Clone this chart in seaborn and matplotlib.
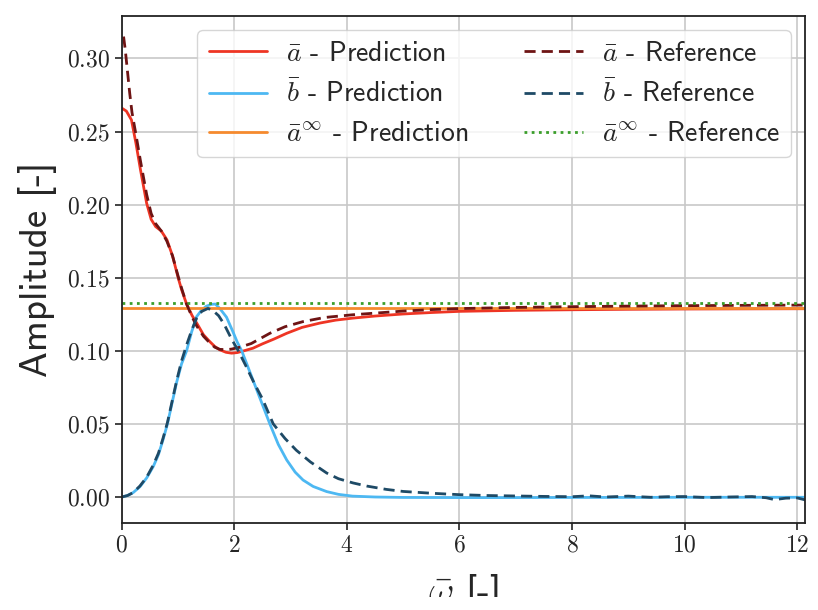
import numpy as np
import pandas as pd
import matplotlib
matplotlib.use('Agg')
import matplotlib.pyplot as plt
from matplotlib.patches import Rectangle
import seaborn as sns

# values
a_pred_x = [0.0, 0.08, 0.17, 0.25, 0.33, 0.44, 0.52, 0.60, 0.70, 0.80, 0.90, 1.00, 1.06, 1.15, 1.25, 1.33,
            1.45, 1.56, 1.65, 1.74, 1.85, 1.95, 2.05, 2.15, 2.33, 2.5, 2.7, 2.93, 3.2, 3.52, 3.8, 4.11, 4.5,
            5.0, 5.5, 6.0, 7.0, 8.0, 9.0, 10.0, 11.0, 12.2]
a_pred_y = [0.266, 0.264, 0.258, 0.242, 0.224, 0.201, 0.190, 0.185, 0.182, 0.176, 0.165, 0.150, 0.142, 0.132,
            0.124, 0.119, 0.111, 0.1064, 0.103, 0.1007, 0.099, 0.0984, 0.0988, 0.0998, 0.1018, 0.1048, 0.108,
            0.112, 0.116, 0.119, 0.121, 0.1224, 0.1238, 0.1252, 0.1262, 0.127, 0.1277, 0.1281, 0.1284, 0.1286,
            0.1287, 0.1288]

a_ref_x = [0.03, 0.06, 0.10, 0.14, 0.18, 0.25, 0.33, 0.44, 0.52, 0.60, 0.70, 0.80, 0.90, 1.00, 1.06, 1.15,
           1.25, 1.33, 1.45, 1.56, 1.65, 1.74, 1.86, 1.95, 2.10, 2.3, 2.63, 2.9, 3.22, 3.6, 4.11, 4.5, 5.0,
           5.5, 6.0, 7.0, 8.0, 9.0, 10.0, 11.0, 12.2]
a_ref_y = [0.315, 0.306, 0.291, 0.276, 0.263, 0.248, 0.230, 0.207, 0.194, 0.187, 0.182, 0.175, 0.165, 0.151,
           0.143, 0.132, 0.123, 0.117, 0.110, 0.1055, 0.1025, 0.101, 0.1008, 0.1012, 0.1025, 0.105, 0.112,
           0.1165, 0.120, 0.1228, 0.1247, 0.1258, 0.1272, 0.1282, 0.1289, 0.1297, 0.1302, 0.1306, 0.1309,
           0.1311, 0.1313]

b_pred_x = [0.0, 0.1, 0.2, 0.32, 0.44, 0.56, 0.65, 0.73, 0.81, 0.89, 0.97, 1.06, 1.15, 1.24, 1.33, 1.42,
            1.50, 1.59, 1.66, 1.74, 1.86, 1.98, 2.05, 2.13, 2.25, 2.4, 2.63, 2.78, 2.93, 3.08, 3.22, 3.4,
            3.64, 3.85, 4.1, 4.5, 5.0, 6.0, 7.0, 8.0, 9.0, 10.0, 11.0, 12.2]
b_pred_y = [0.0, 0.001, 0.003, 0.007, 0.013, 0.021, 0.029, 0.039, 0.050, 0.064, 0.078, 0.091, 0.100, 0.113,
            0.1235, 0.128, 0.1305, 0.1318, 0.132, 0.129, 0.123, 0.1125, 0.106, 0.100, 0.088, 0.073, 0.050,
            0.036, 0.0253, 0.017, 0.0116, 0.0072, 0.0037, 0.0018, 0.0006, 0.0, -0.0003, -0.0004, -0.0004,
            -0.0003, -0.0003, -0.0002, -0.0002, -0.0002]

b_ref_x = [0.0, 0.1, 0.2, 0.32, 0.44, 0.56, 0.65, 0.73, 0.81, 0.89, 0.97, 1.06, 1.15, 1.24, 1.33, 1.42,
           1.53, 1.62, 1.72, 1.82, 1.95, 2.07, 2.2, 2.35, 2.5, 2.69, 2.9, 3.1, 3.35, 3.64, 3.85, 4.11, 4.35,
           4.7, 5.0, 5.53, 6.0, 6.5, 7.0, 7.5, 8.0, 8.3, 8.6, 9.0, 9.4, 9.7, 10.0, 10.4, 10.8, 11.2, 11.45,
           11.6, 11.8, 12.0, 12.2]
b_ref_y = [0.0, 0.001, 0.003, 0.0075, 0.0135, 0.022, 0.030, 0.040, 0.051, 0.065, 0.079, 0.093, 0.104, 0.114,
           0.1225, 0.127, 0.129, 0.1275, 0.124, 0.118, 0.108, 0.100, 0.090, 0.078, 0.067, 0.050, 0.040,
           0.032, 0.024, 0.0164, 0.0125, 0.0096, 0.0075, 0.0052, 0.0038, 0.0025, 0.0016, 0.001, 0.0007,
           0.0004, 0.0002, 0.0008, 0.0, 0.0006, -0.0002, 0.0002, 0.0003, -0.0004, 0.0, 0.0003, -0.0005,
           -0.0018, -0.0008, -0.0006, -0.0025]

a_inf_pred = 0.1292
a_inf_ref = 0.1326
x_span = [0.0, 12.2]

sns.set_style('ticks')
plt.rcParams['font.family'] = ['cmss10', 'DejaVu Sans']
plt.rcParams['mathtext.fontset'] = 'cm'
plt.rcParams['axes.unicode_minus'] = False

fig = plt.figure(figsize=(8.18, 6.10), dpi=100)
ax = fig.add_axes([0.149, 0.1426, 0.835, 0.831])

lw = 2.0
sns.lineplot(x=a_pred_x, y=a_pred_y, ax=ax, color='#ee3524', lw=lw, label=r'$\bar{a}$ - Prediction')
sns.lineplot(x=b_pred_x, y=b_pred_y, ax=ax, color='#4db8f2', lw=lw, label=r'$\bar{b}$ - Prediction')
sns.lineplot(x=x_span, y=[a_inf_pred, a_inf_pred], ax=ax, color='#f58a2e', lw=lw,
             label=r'$\bar{a}^{\infty}$ - Prediction')
sns.lineplot(x=a_ref_x, y=a_ref_y, ax=ax, color='#6e1414', lw=lw, ls=(0, (4, 2.2)),
             label=r'$\bar{a}$ - Reference')
sns.lineplot(x=b_ref_x, y=b_ref_y, ax=ax, color='#1e4a66', lw=lw, ls=(0, (4, 2.2)),
             label=r'$\bar{b}$ - Reference')
sns.lineplot(x=x_span, y=[a_inf_ref, a_inf_ref], ax=ax, color='#3a9e2a', lw=lw, ls=(0, (1, 1.6)),
             label=r'$\bar{a}^{\infty}$ - Reference')

ax.set_xlim(0, 12.14)
ax.set_ylim(-0.0178, 0.329)
ax.set_xticks([0, 2, 4, 6, 8, 10, 12])
ax.set_yticks([0.0, 0.05, 0.10, 0.15, 0.20, 0.25, 0.30])
ax.xaxis.set_major_formatter(matplotlib.ticker.FuncFormatter(lambda v, p: '$%d$' % v))
ax.yaxis.set_major_formatter(matplotlib.ticker.FuncFormatter(lambda v, p: '$%.2f$' % v))
ax.tick_params(labelsize=17, length=5, width=1.2, color='#222222')
ax.grid(True, color='#c8c8c8', lw=1.2)
for s in ax.spines.values():
    s.set_color('#222222')
    s.set_linewidth(1.3)

ax.set_ylabel('Amplitude [-]', fontsize=28, labelpad=7)
ax.set_xlabel(r'$\bar{\omega}$ [-]', fontsize=28, labelpad=11)

ax.legend(loc='upper right', ncol=2, fontsize=20, framealpha=0.8, handlelength=2.1,
          handletextpad=0.7)

# the reference image is cut just below the top of the x label
fig.patches.append(Rectangle((0, 0), 1, 13 / 610, transform=fig.transFigure,
                             facecolor='white', edgecolor='none', zorder=10))

fig.savefig('out.png', dpi=100)
